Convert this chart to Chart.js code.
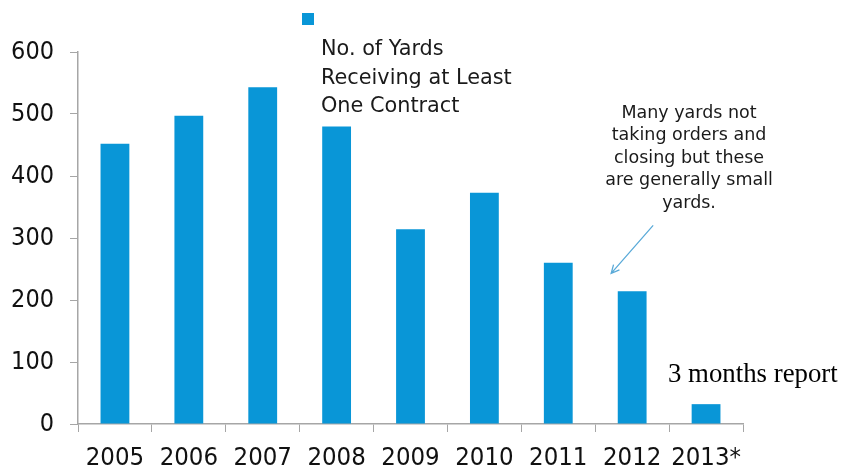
<!DOCTYPE html>
<html>
<head>
<meta charset="utf-8">
<script src="https://cdn.jsdelivr.net/npm/chart.js@4/dist/chart.umd.min.js"></script>
<style>
  html, body { margin: 0; padding: 0; background: #fff; }
  #wrap { width: 841px; height: 468px; position: relative; }
</style>
</head>
<body>
<div id="wrap"><canvas id="c" width="841" height="468"></canvas></div>
<script>
// Shipyards receiving at least one new contract, per year
const years = ['2005', '2006', '2007', '2008', '2009', '2010', '2011', '2012', '2013*'];
const yardCounts = [452, 497, 543, 480, 314, 373, 260, 214, 32];
const yTicks = [0, 100, 200, 300, 400, 500, 600];

const seriesLabel = ['No. of Yards', 'Receiving at Least', 'One Contract'];
const noteLines = ['Many yards not', 'taking orders and', 'closing but these', 'are generally small', 'yards.'];
const footnote = '3 months report';

const BAR = '#0996d7';
const AXIS = '#a6a6a6';
const COND = "'DejaVu Sans Condensed', 'DejaVu Sans', sans-serif";
const SANS = "'DejaVu Sans', sans-serif";

// Legend, callout and footnote text drawn over the plot
const overlay = {
  id: 'overlay',
  afterDraw(chart) {
    const { ctx, scales: { x, y } } = chart;
    ctx.save();

    // legend swatch and wrapped series name
    ctx.fillStyle = BAR;
    ctx.fillRect(302, 13, 12, 12);
    ctx.fillStyle = '#1a1a1a';
    ctx.font = "20.8px " + SANS;
    ctx.textAlign = 'left';
    ctx.textBaseline = 'middle';
    seriesLabel.forEach((t, i) => ctx.fillText(t, 321, 50 + i * 28.5));

    // callout text
    const cx = x.getPixelForValue(8) - 17;
    ctx.font = "17.5px " + SANS;
    ctx.textAlign = 'center';
    noteLines.forEach((t, i) => ctx.fillText(t, cx, 113 + i * 22.5));

    // arrow pointing at the 2012 bar
    const tipX = x.getPixelForValue(7) - 21;
    const tipY = y.getPixelForValue(243);
    const tailX = tipX + 42, tailY = tipY - 48;
    ctx.strokeStyle = '#5aaad8';
    ctx.lineWidth = 1.3;
    ctx.beginPath();
    ctx.moveTo(tailX, tailY);
    ctx.lineTo(tipX, tipY);
    const ang = Math.atan2(tipY - tailY, tipX - tailX);
    const h = 9;
    ctx.moveTo(tipX - h * Math.cos(ang - 0.45), tipY - h * Math.sin(ang - 0.45));
    ctx.lineTo(tipX, tipY);
    ctx.lineTo(tipX - h * Math.cos(ang + 0.45), tipY - h * Math.sin(ang + 0.45));
    ctx.stroke();

    // footnote for the partial year
    ctx.fillStyle = '#000';
    ctx.font = "26.8px 'Liberation Serif', 'Times New Roman', serif";
    ctx.textAlign = 'left';
    ctx.textBaseline = 'alphabetic';
    ctx.fillText(footnote, 668, 382);

    ctx.restore();
  }
};

new Chart(document.getElementById('c'), {
  type: 'bar',
  data: {
    labels: years,
    datasets: [{
      label: seriesLabel.join(' '),
      data: yardCounts,
      backgroundColor: BAR,
      borderWidth: 0,
      categoryPercentage: 1,
      barPercentage: 0.39
    }]
  },
  options: {
    responsive: false,
    animation: false,
    layout: { padding: { top: 52, right: 98, left: 0, bottom: 0 } },
    plugins: { legend: { display: false }, tooltip: { enabled: false } },
    scales: {
      x: {
        offset: true,
        grid: { display: true, drawOnChartArea: false, drawTicks: true, tickLength: 8, color: AXIS, offset: true },
        border: { display: true, color: AXIS, width: 1.5 },
        ticks: { color: '#111', font: { family: COND, size: 25.5 }, padding: 11, maxRotation: 0, autoSkip: false },
        afterFit(s) { s.height = 44; }
      },
      y: {
        min: 0,
        max: 600,
        afterBuildTicks(s) { s.ticks = yTicks.map(v => ({ value: v })); },
        grid: { display: true, drawOnChartArea: false, drawTicks: true, tickLength: 8, color: AXIS },
        border: { display: true, color: AXIS, width: 1.5 },
        ticks: { color: '#111', font: { family: COND, size: 25 }, padding: 16 },
        afterFit(s) { s.width = 78; }
      }
    }
  },
  plugins: [overlay]
});
</script>
</body>
</html>
